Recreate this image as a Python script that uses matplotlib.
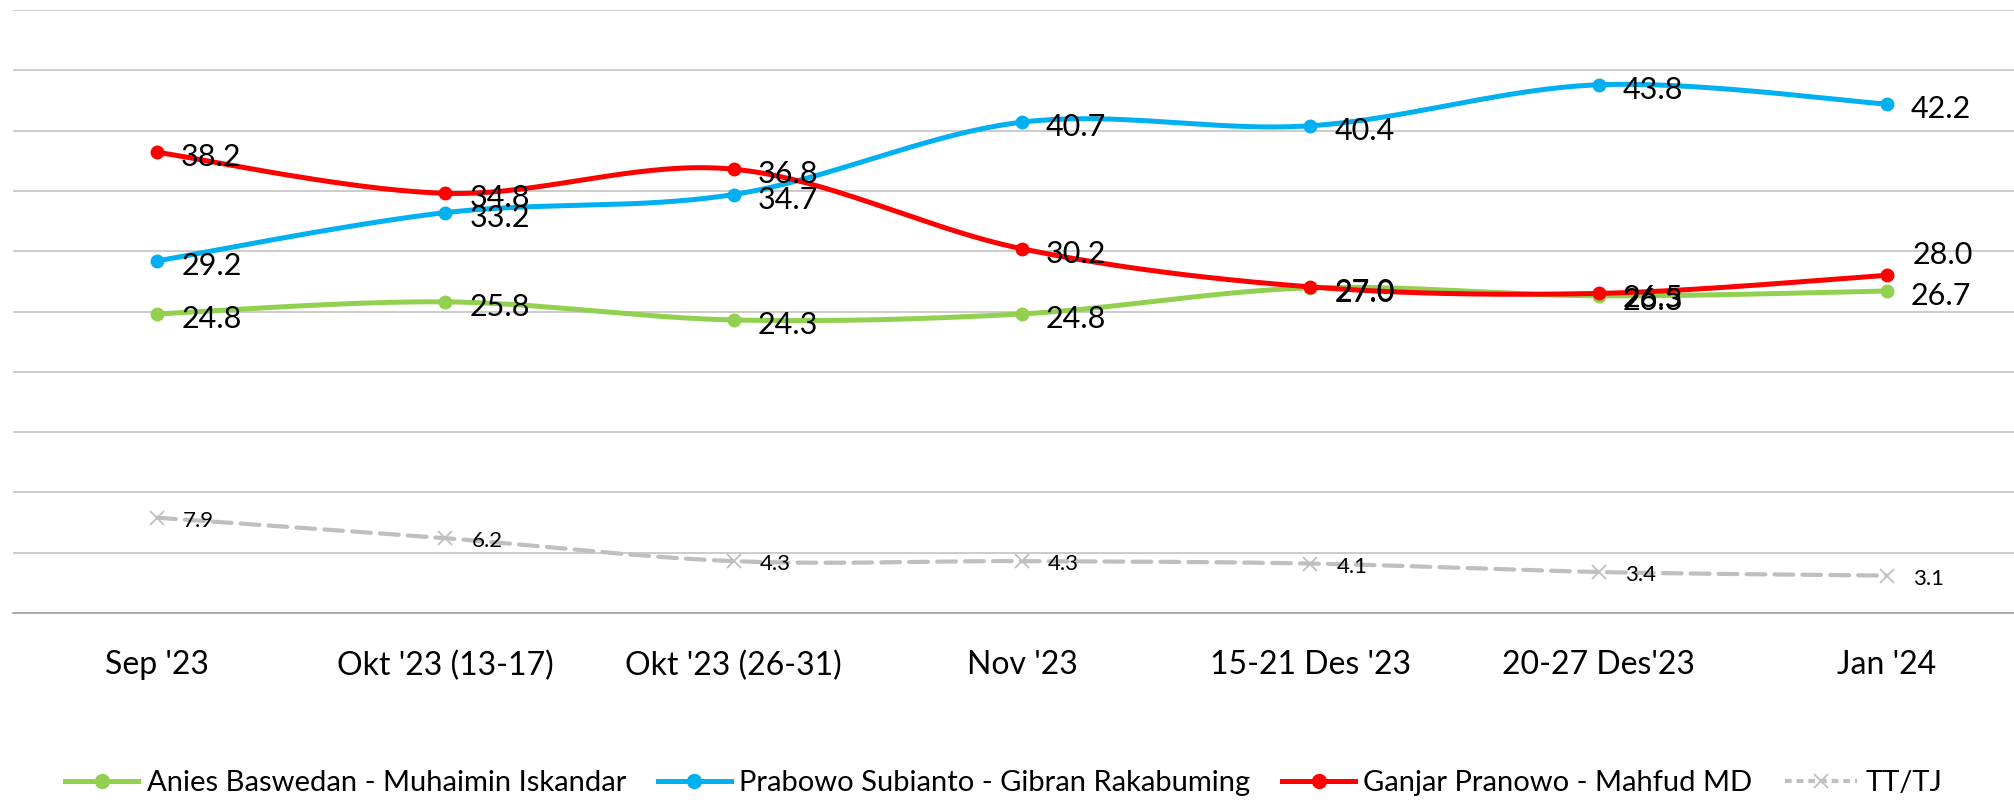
import numpy as np
import matplotlib
matplotlib.use('Agg')
import matplotlib.pyplot as plt
from matplotlib.lines import Line2D

plt.rcParams['font.family'] = ['Lato', 'DejaVu Sans']

# survey rounds
categories = ["Sep '23", "Okt '23 (13-17)", "Okt '23 (26-31)", "Nov '23",
              "15-21 Des '23", "20-27 Des'23", "Jan '24"]

anies = [24.8, 25.8, 24.3, 24.8, 26.96, 26.3, 26.7]
prabowo = [29.2, 33.2, 34.7, 40.7, 40.4, 43.8, 42.2]
ganjar = [38.2, 34.8, 36.8, 30.2, 27.04, 26.5, 28.0]
tttj = [7.9, 6.2, 4.3, 4.3, 4.1, 3.4, 3.1]

names = ['Anies Baswedan - Muhaimin Iskandar', 'Prabowo Subianto - Gibran Rakabuming',
         'Ganjar Pranowo - Mahfud MD', 'TT/TJ']

GREEN = '#92D050'
BLUE = '#00B0F0'
RED = '#FF0000'
GREY = '#BFBFBF'

W, H = 2015, 802
AX_L, AX_R, AX_TOP, AX_BOT = 13, 2031, 10, 613


def smooth(xs, ys, sx, sy, n=40):
    """Excel-like smoothed line (bezier through points, done in pixel space)."""
    p = np.column_stack([np.asarray(xs, float) * sx, np.asarray(ys, float) * sy])
    p = np.vstack([p[0], p, p[-1]])
    out = []
    t = np.linspace(0, 1, n)[:, None]
    for i in range(1, len(p) - 2):
        p0, p1, p2, p3 = p[i - 1], p[i], p[i + 1], p[i + 2]
        c1 = p1 + (p2 - p0) / 6.0
        c2 = p2 - (p3 - p1) / 6.0
        seg = ((1 - t) ** 3) * p1 + 3 * ((1 - t) ** 2) * t * c1 + 3 * (1 - t) * t ** 2 * c2 + t ** 3 * p2
        out.append(seg if i == 1 else seg[1:])
    out = np.vstack(out)
    return out[:, 0] / sx, out[:, 1] / sy


fig = plt.figure(figsize=(W / 100, H / 100), dpi=100)
ax = fig.add_axes([AX_L / W, 1 - AX_BOT / H, (AX_R - AX_L) / W, (AX_BOT - AX_TOP) / H])

x = np.arange(len(categories))
sx = (AX_R - AX_L) / len(categories)
sy = (AX_BOT - AX_TOP) / 50.0

series = [
    (anies, GREEN),
    (prabowo, BLUE),
    (ganjar, RED),
]
for vals, col in series:
    lx, ly = smooth(x, vals, sx, sy)
    ax.plot(lx, ly, color=col, lw=3.6, solid_capstyle='round', zorder=3)
    ax.plot(x, vals, 'o', color=col, ms=9, zorder=3)

lx, ly = smooth(x, tttj, sx, sy)
ax.plot(lx, ly, color=GREY, lw=3.0, dashes=(4.5, 2.2), dash_capstyle='round', zorder=3)
ax.plot(x, tttj, 'x', color=GREY, ms=10, mew=1.3, zorder=3)

# data labels
for vals, col in series:
    for i, v in enumerate(vals):
        off = (24, -5)
        if vals is ganjar and i == len(vals) - 1:
            off = (26, 20)
        ax.annotate(f'{v:.1f}', (x[i], v), xytext=off, textcoords='offset pixels',
                    ha='left', va='center', fontsize=22, color='black', zorder=5)
for i, v in enumerate(tttj):
    ax.annotate(f'{v:.1f}', (x[i], v), xytext=(26, -3), textcoords='offset pixels',
                ha='left', va='center', fontsize=16, color='black', zorder=5)

ax.set_xlim(-0.5, len(categories) - 0.5)
ax.set_ylim(0, 50)
ax.set_yticks(np.arange(0, 51, 5))
ax.yaxis.grid(True, color=GREY, lw=1.1)
ax.set_axisbelow(True)
ax.tick_params(axis='y', left=False, labelleft=False)
ax.set_xticks(x)
ax.set_xticklabels(categories, fontsize=23)
ax.tick_params(axis='x', length=0, pad=27)
for s in ['top', 'right', 'left']:
    ax.spines[s].set_visible(False)
ax.spines['bottom'].set_color('#A6A6A6')
ax.spines['bottom'].set_linewidth(1.3)

handles = [
    Line2D([], [], color=GREEN, lw=3.6, marker='o', ms=10),
    Line2D([], [], color=BLUE, lw=3.6, marker='o', ms=10),
    Line2D([], [], color=RED, lw=3.6, marker='o', ms=10),
    Line2D([], [], color=GREY, lw=3.0, dashes=(1.6, 1.2), marker='x', ms=10, mew=1.3),
]
fig.legend(handles, names, loc='center', bbox_to_anchor=(1004 / W, 1 - 783 / H),
           ncol=4, frameon=False, fontsize=21, handlelength=2.5, handletextpad=0.28,
           columnspacing=1.1, borderpad=0)

fig.savefig('out.png', dpi=100)
